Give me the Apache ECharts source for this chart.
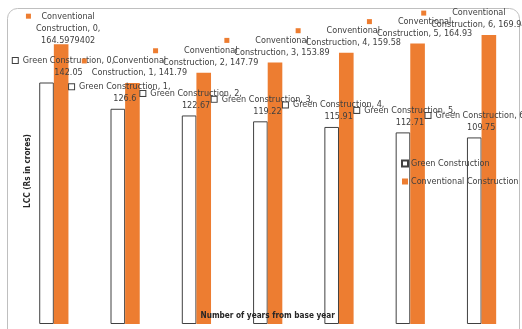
<!DOCTYPE html>
<html>
<head>
<meta charset="utf-8">
<script src="https://cdn.jsdelivr.net/npm/echarts@6/dist/echarts.min.js"></script>
<style>
  html, body { margin: 0; padding: 0; background: #fff; }
  #chart { width: 522px; height: 329px; }
</style>
</head>
<body>
<div id="chart"></div>
<script>
const categories = ['0', '1', '2', '3', '4', '5', '6'];
const greenValues = [142.05, 126.6, 122.67, 119.22, 115.91, 112.71, 109.75];
const convValues = [164.5979402, 141.79, 147.79, 153.89, 159.58, 164.93, 169.94];
const seriesNames = ['Green Construction', 'Conventional Construction'];
const xTitle = 'Number of years from base year';
const yTitle = 'LCC (Rs in crores)';

const FONT = "'Liberation Sans Narrow', 'DejaVu Sans Condensed', 'Roboto Condensed', Roboto, sans-serif";
const TXT = '#404040';
const ORANGE = '#ED7D31';
const FS = 9;

const richCommon = {
  t: { align: 'center', fontSize: FS, lineHeight: 12, color: TXT, fontFamily: FONT },
  s: { align: 'left', width: 10, lineHeight: 12 },
  g: { align: 'left', width: 5, lineHeight: 12 }
};

function greenLabel(p) {
  return '{m|}{g|}{t|Green Construction, ' + p.name + ',}\n{s|}{t|' + p.value + '}';
}
function convLabel(p) {
  const v = String(p.value);
  if (v.length > 6) {
    return '{m|}{g|}{t|Conventional}\n{s|}{t|Construction, ' + p.name + ',}\n{s|}{t|' + v + '}';
  }
  return '{m|}{g|}{t|Conventional}\n{s|}{t|Construction, ' + p.name + ', ' + v + '}';
}

// label nudges (Excel moved these labels to fit)
function convItem(v, i) {
  if (i === 0) return { value: v, label: { offset: [2, 6] } };
  if (i === convValues.length - 1) return { value: v, label: { offset: [-15, 0] } };
  return v;
}
function greenItem(v, i) {
  if (i === 0) return { value: v, label: { offset: [17, 0] } };
  return v;
}

const chart = echarts.init(document.getElementById('chart'), null, { renderer: 'canvas' });
chart.setOption({
  animation: false,
  textStyle: { fontFamily: FONT },
  graphic: [{
    type: 'rect',
    shape: { x: 7.5, y: 8.5, width: 512, height: 340, r: 10 },
    style: { fill: 'none', stroke: '#BFBFBF', lineWidth: 1 },
    silent: true, z: -10
  }],
  legend: {
    orient: 'vertical',
    left: 401, top: 159,
    itemWidth: 6, itemHeight: 6, itemGap: 9,
    padding: 0,
    icon: 'rect',
    textStyle: { fontSize: FS, color: TXT, fontFamily: FONT, padding: [0, 0, 0, -2] },
    data: seriesNames
  },
  grid: { left: 18.2, right: 4.8, top: 18, bottom: 5, containLabel: false },
  xAxis: {
    type: 'category',
    z: 10,
    data: categories,
    name: xTitle,
    nameLocation: 'middle',
    nameGap: -12,
    nameTextStyle: { fontWeight: 'bold', fontSize: 8.2, color: '#262626', fontFamily: FONT },
    axisLine: { show: false }, axisTick: { show: false }, axisLabel: { show: false },
    splitLine: { show: false }
  },
  yAxis: {
    type: 'value',
    min: 0, max: 180,
    name: yTitle,
    nameLocation: 'middle',
    nameGap: -14,
    nameTextStyle: { fontWeight: 'bold', fontSize: 8.2, color: '#262626', fontFamily: FONT },
    axisLine: { show: false }, axisTick: { show: false }, axisLabel: { show: false },
    splitLine: { show: false }
  },
  series: [
    {
      name: seriesNames[0],
      type: 'bar',
      barGap: '0%',
      barCategoryGap: '59%',
      itemStyle: { color: '#FFFFFF', borderColor: '#404040', borderWidth: 1 },
      label: {
        show: true, position: 'top', distance: 4, offset: [2, 0],
        formatter: greenLabel,
        rich: Object.assign({
          m: { align: 'left', width: 5, height: 5, backgroundColor: '#FFFFFF', borderColor: '#404040', borderWidth: 1 }
        }, richCommon)
      },
      data: greenValues.map(greenItem)
    },
    {
      name: seriesNames[1],
      type: 'bar',
      itemStyle: { color: ORANGE },
      label: {
        show: true, position: 'top', distance: 4, offset: [2, 0],
        formatter: convLabel,
        rich: Object.assign({
          m: { align: 'left', width: 5, height: 5, backgroundColor: ORANGE }
        }, richCommon)
      },
      data: convValues.map(convItem)
    }
  ]
});
</script>
</body>
</html>
